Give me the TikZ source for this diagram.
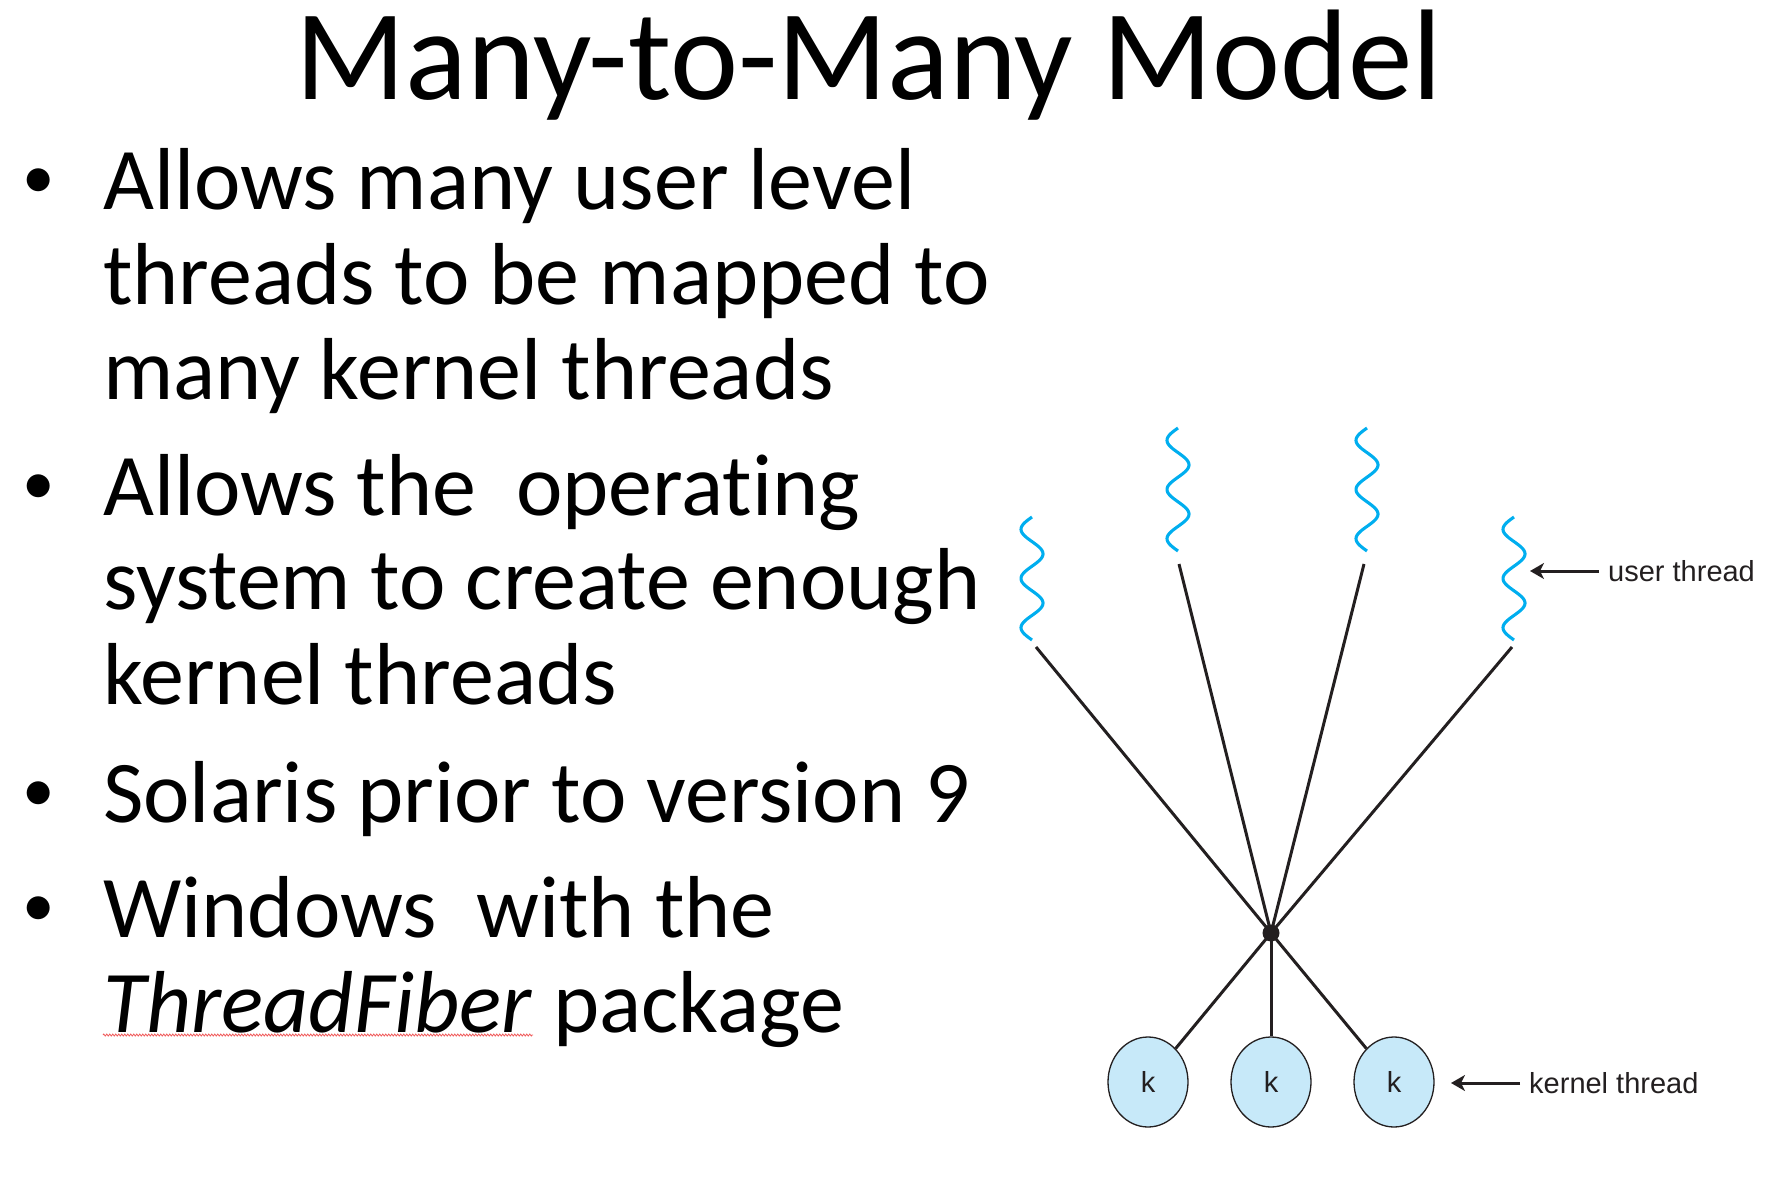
\documentclass[tikz,border=0pt]{standalone}
\usepackage{fontspec}
\setmainfont{Carlito}[Ligatures={NoCommon}]
\newfontfamily\diagfont{Liberation Sans}
\usetikzlibrary{arrows.meta, positioning, shapes.geometric, decorations.pathmorphing}

\definecolor{threadblue}{RGB}{0,174,239}
\definecolor{kernfill}{RGB}{199,233,249}
\definecolor{inkline}{RGB}{35,31,32}
\definecolor{spellred}{RGB}{240,90,90}

\begin{document}
\begin{tikzpicture}[
  x=1pt, y=-1pt,
  heading/.style = {inner sep=0, anchor=base, font=\fontsize{129pt}{133pt}\selectfont},
  bodyline/.style = {inner sep=0, anchor=base west, font=\fontsize{88pt}{95pt}\selectfont},
  bulletmark/.style = {inner sep=0, anchor=base, font=\fontsize{65pt}{70pt}\selectfont},
  uwave/.style = {draw=threadblue, line width=3.1pt},
  link/.style = {draw=inkline, line width=3pt},
  hubdot/.style = {circle, fill=inkline, minimum size=17pt, inner sep=0},
  kthread/.style = {ellipse, draw=inkline, line width=1.3pt, fill=kernfill, minimum width=80pt, minimum height=90pt, inner sep=0, font=\diagfont\fontsize{29pt}{32pt}\selectfont, text=inkline},
  label/.style = {inner sep=0, anchor=west, font=\diagfont\fontsize{29pt}{32pt}\selectfont, text=inkline},
  pointer/.style = {draw=inkline, line width=3pt, -{Stealth[length=14pt, width=16pt, inset=4pt]}},
  squiggle/.style = {draw=spellred, line width=0.8pt, decorate, decoration={zigzag, segment length=3pt, amplitude=1pt}}
]
\useasboundingbox (0,0) rectangle (1783,1190);

% Title
\node[heading] (title) at (869,100) {Many-to-Many Model};

% Bullet points
\foreach \n/\by in {1/210, 2/515, 3/822, 4/937}
  \node[bulletmark] (dot\n) at (39,\by-11) {•};
\node[bodyline] (line1) at (103,210) {Allows many user level};
\node[bodyline] (line2) at (103,304.5) {threads to be mapped to};
\node[bodyline] (line3) at (103,399) {many kernel threads};
\node[bodyline] (line4) at (103,515) {Allows the\ \ operating};
\node[bodyline] (line5) at (103,609.5) {system to create enough};
\node[bodyline] (line6) at (103,704) {kernel threads};
\node[bodyline] (line7) at (103,822) {Solaris prior to version 9};
\node[bodyline] (line8) at (103,937) {Windows\ \ with the};
\node[bodyline] (tfword) at (103,1032) {\textit{ThreadFiber}};
\node[bodyline] (pkgword) at (tfword.base east) {\ package};
\draw[squiggle] ([yshift=-3pt]tfword.base west) -- ([yshift=-3pt]tfword.base east);

% User threads (wavy)
\foreach \n/\cx/\ty in {1/1032/517, 2/1178/428, 3/1367/428, 4/1514/517}
  \draw[uwave] plot[domain=0:123, samples=90, smooth] ({\cx - 11*sin(\x/49.2*360)}, {\ty + \x});

% Mapping lines
\node[hubdot] (hub) at (1271,933) {};
\foreach \n/\px/\py in {1/1036/647, 2/1179/564, 3/1364/564, 4/1512/647}
  \coordinate (ut\n) at (\px,\py);
\foreach \n in {1,...,4}
  \draw[link] (ut\n) -- (hub.center);

% Kernel threads
\foreach \n/\kx in {1/1148, 2/1271, 3/1394}
  \node[kthread] (k\n) at (\kx,1082) {k};
\foreach \n in {1,2,3}
  \draw[link] (hub.center) -- (k\n);

% Labels
\coordinate (uttail) at (1599,571);
\coordinate (uttip) at (1530,571);
\node[label, right=9pt of uttail] (utlabel) {user thread};
\draw[pointer] (uttail) -- (uttip);

\coordinate (kttail) at (1520,1083);
\coordinate (kttip) at (1451,1083);
\node[label, right=9pt of kttail] (ktlabel) {kernel thread};
\draw[pointer] (kttail) -- (kttip);

\end{tikzpicture}
\end{document}
